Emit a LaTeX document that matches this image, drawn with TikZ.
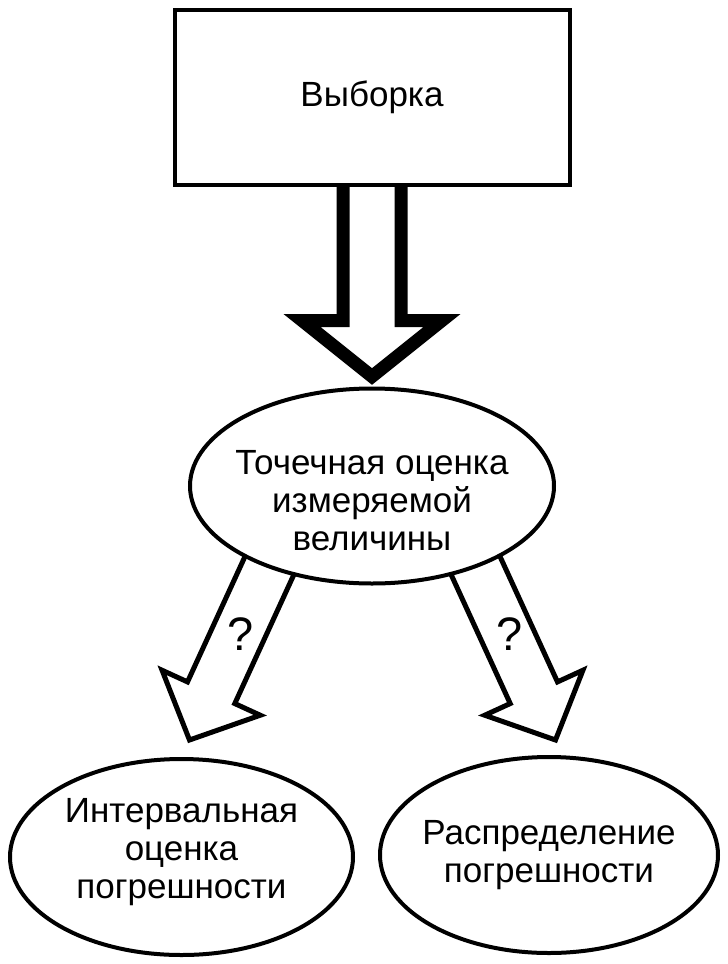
\documentclass[tikz,border=0pt]{standalone}
\usepackage{fontspec}
\setmainfont{Liberation Sans}
\usetikzlibrary{calc,shapes.geometric}

\pgfdeclarelayer{back}
\pgfsetlayers{back,main}

% block arrow: [style]{from}{to}{shaft half width}{head half width}{head length}
\newcommand{\blockarrow}[6][]{%
  \coordinate (hb) at ($(#3)!#6!(#2)$);
  \draw[#1] ($(#2)!#4!90:(#3)$) -- ($(hb)!#4!-90:(#2)$) -- ($(hb)!#5!-90:(#2)$)
    -- (#3) -- ($(hb)!#5!90:(#2)$) -- ($(hb)!#4!90:(#2)$) -- ($(#2)!#4!-90:(#3)$) -- cycle;}

\begin{document}
\begin{tikzpicture}[x=1pt, y=-1pt, font=\fontsize{35}{38}\selectfont,
  box/.style={draw, line width=4pt, fill=white, inner sep=0pt},
  oval/.style={box, ellipse},
  txt/.style={align=center},
  fatarrow/.style={draw, line width=13pt, fill=white},
  thinarrow/.style={draw, line width=5pt, fill=white},
  qmark/.style={font=\fontsize{47}{50}\selectfont}]

\useasboundingbox (0,0) rectangle (728,964);

% Blocks
\node[box, minimum width=395pt, minimum height=175pt] (sample) at (372,97.5) {};
\node[oval, minimum width=364pt, minimum height=195pt] (point) at (372,486) {};
\node[oval, minimum width=343pt, minimum height=196pt] (interval) at (181.5,857) {};
\node[oval, minimum width=338pt, minimum height=196pt] (distr) at (549,855) {};

% Texts
\node[txt] (sampletxt) at (sample.center) {Выборка};
\node[txt] (pointtxt) at ([yshift=-15pt]point.center) {Точечная оценка\\измеряемой\\величины};
\node[txt] (intervaltxt) at ([yshift=5pt]interval.center) {Интервальная\\оценка\\погрешности};
\node[txt] (distrtxt) at (distr.center) {Распределение\\погрешности};

% Arrow ends
\coordinate (bigtip) at ([yshift=10pt]point.north);
\coordinate (ltail) at (293.5,513);
\coordinate (ltip) at (189.5,740);
\coordinate (rtail) at (451.5,513);
\coordinate (rtip) at (555.5,740);

% Arrows (behind the blocks)
\begin{pgfonlayer}{back}
\blockarrow[fatarrow]{sample.center}{bigtip}{29pt}{70pt}{56pt}
\blockarrow[thinarrow]{ltail}{ltip}{26pt}{54pt}{52pt}
\blockarrow[thinarrow]{rtail}{rtip}{26pt}{54pt}{52pt}
\end{pgfonlayer}

% Question marks
\node[qmark] (lq) at (241,634) {?};
\node[qmark] (rq) at (510,634) {?};

\end{tikzpicture}
\end{document}
